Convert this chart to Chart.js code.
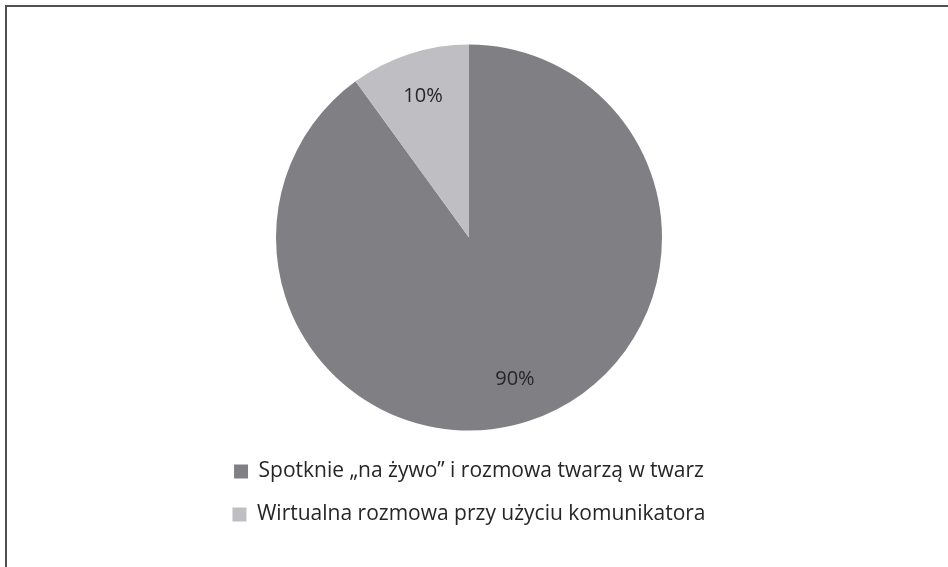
<!DOCTYPE html>
<html>
<head>
<meta charset="utf-8">
<script src="https://cdn.jsdelivr.net/npm/chart.js@4"></script>
<style>
  html, body { margin: 0; padding: 0; background: #fff; }
  #wrap { position: relative; width: 948px; height: 567px; overflow: hidden; }
  #frame {
    position: absolute; left: 5px; top: 5px; width: 1000px; height: 1000px;
    border-top: 2px solid #505050; border-left: 2px solid #505050;
  }
  canvas { position: absolute; left: 0; top: 0; }
</style>
</head>
<body>
<div id="wrap">
  <div id="frame"></div>
  <canvas id="myChart" width="948" height="567"></canvas>
</div>
<script>
const categories = [
  "Spotknie \u201ena \u017cywo\u201d i rozmowa twarz\u0105 w twarz",
  "Wirtualna rozmowa przy u\u017cyciu komunikatora",
];
const values = [90, 10];
const valueLabels = ["90%", "10%"];

// etykiety procentowe na wycinkach
const sliceLabels = {
  id: "sliceLabels",
  afterDatasetsDraw(chart) {
    const ctx = chart.ctx;
    const meta = chart.getDatasetMeta(0);
    ctx.save();
    ctx.font = "20px 'Open Sans'";
    ctx.fillStyle = "#262626";
    ctx.textAlign = "center";
    ctx.textBaseline = "middle";
    meta.data.forEach((arc, i) => {
      const p = arc.getProps(["x", "y", "startAngle", "endAngle", "outerRadius"], true);
      const mid = (p.startAngle + p.endAngle) / 2;
      const r = p.outerRadius * 0.77;
      ctx.fillText(valueLabels[i], p.x + Math.cos(mid) * r, p.y + Math.sin(mid) * r);
    });
    ctx.restore();
  },
};

var ctx = document.getElementById("myChart");
var myChart = new Chart(ctx, {
  type: "pie",
  data: {
    labels: categories,
    datasets: [
      {
        data: values,
        backgroundColor: ["#808084", "#bfbfc3"], //kolory wycinków
        borderWidth: 0,
      },
    ],
  },
  options: {
    responsive: false,
    animation: false,
    radius: 193,
    layout: {
      padding: { top: 36, left: 225, right: 235, bottom: 32 },
    },
    plugins: {
      tooltip: { enabled: false },
      legend: {
        position: "bottom",
        labels: {
          font: { family: "Open Sans", size: 21 },
          color: "#262626",
          boxWidth: 14,
          boxHeight: 14,
          padding: 22,
        },
      },
    },
  },
  plugins: [sliceLabels],
});
</script>
</body>
</html>
